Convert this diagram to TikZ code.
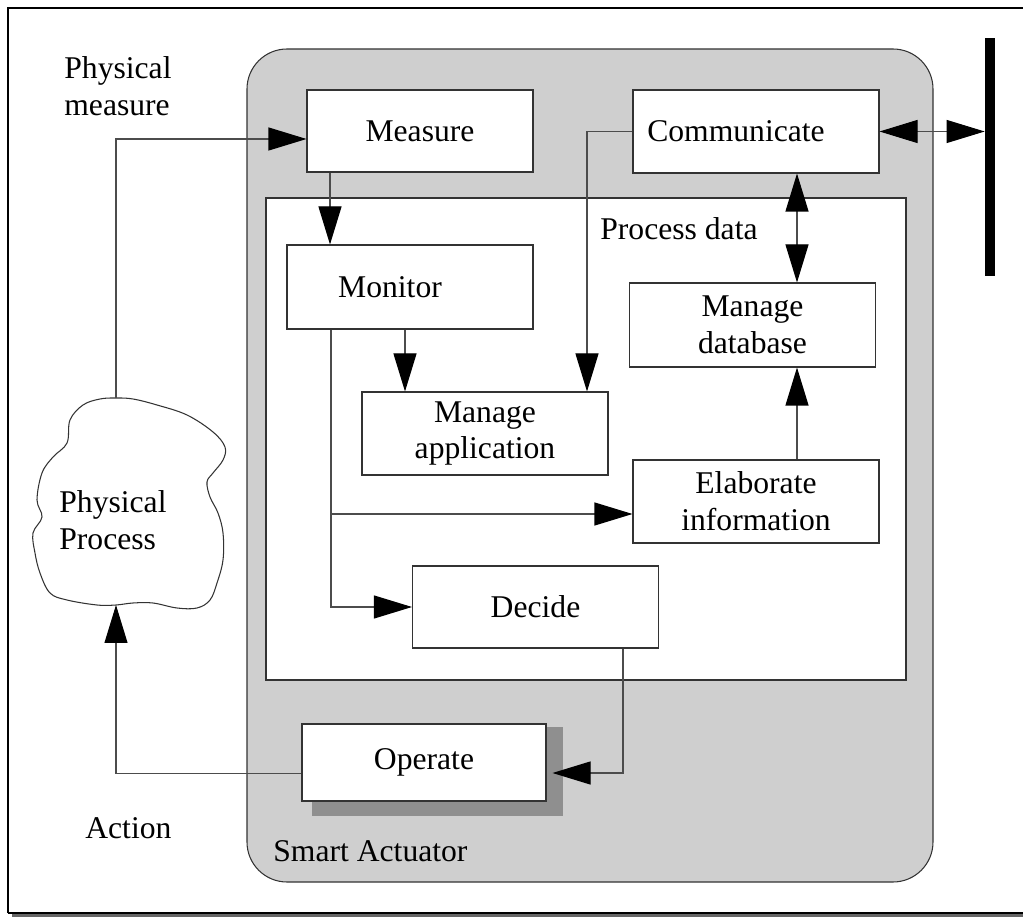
\documentclass[tikz,border=0pt]{standalone}
\usepackage{fontspec}
\setmainfont{Liberation Serif}
\usetikzlibrary{arrows.meta,calc}
\definecolor{actgray}{HTML}{CFCFCF}
\definecolor{shadowgray}{HTML}{8F8F8F}
\tikzset{
  blk/.style={draw=black!80,fill=white,line width=0.6pt,inner sep=0pt,minimum width=4.92cm,minimum height=1.66cm,align=center},
  lbl/.style={inner sep=0pt,anchor=base west},
  arr/.style={draw=black!70,line width=0.6pt,-{Triangle[length=0.76cm,width=0.46cm,color=black]}},
  arrtwo/.style={draw=black!70,line width=0.6pt,{Triangle[length=0.76cm,width=0.46cm,color=black]}-{Triangle[length=0.76cm,width=0.46cm,color=black]}},
}
\begin{document}
\begin{tikzpicture}[font=\fontsize{18}{21}\selectfont]
\useasboundingbox (0,0) rectangle (20.46,-18.34);
\draw[black!60,line width=0.08cm] (0.24,-18.3) -- (20.46,-18.3);
\draw[line width=0.6pt] (0.16,-18.26) -- (0.16,-0.16) -- (20.46,-0.16);
\draw[line width=0.6pt] (0.16,-18.26) -- (20.46,-18.26);

\draw[fill=actgray,draw=black!80,line width=0.6pt,rounded corners=0.8cm] (4.94,-0.98) rectangle (18.66,-17.64);
\draw[fill=white,draw=black!80,line width=0.6pt] (5.32,-3.96) rectangle (18.12,-13.6);
\draw (5.46,-17.22) node[lbl] (SmartAct) {Smart Actuator};
\draw (12.0,-4.8) node[lbl] (ProcData) {Process data};

\draw (8.4,-2.62) node[blk,minimum width=4.52cm,minimum height=1.64cm] (Measure) {Measure};
\draw (15.12,-2.63) node[blk] (Communicate) {Communicate\hspace*{0.8cm}};
\draw (8.2,-5.74) node[blk,minimum height=1.68cm] (Monitor) {Monitor\hspace*{0.8cm}};
\draw (9.7,-8.67) node[blk] (ManageApp) {Manage\\application};
\draw (15.05,-6.5) node[blk,minimum height=1.68cm] (ManageDB) {Manage\\database};
\draw (15.12,-10.03) node[blk] (Elaborate) {Elaborate\\information};
\draw (10.71,-12.14) node[blk,minimum height=1.64cm] (Decide) {Decide};
\fill[shadowgray] (6.24,-14.54) rectangle (11.26,-16.32);
\draw (8.48,-15.25) node[blk,minimum width=4.88cm,minimum height=1.54cm] (Operate) {Operate};
\draw (19.8,-3.14) node[fill=black,inner sep=0pt,minimum width=0.2cm,minimum height=4.76cm] (Bus) {};

\draw[black!80,line width=0.6pt,fill=white] plot[smooth cycle,tension=0.6] coordinates {
 (2.32,-7.96) (2.66,-7.98) (3.14,-8.10) (3.74,-8.30) (4.26,-8.64) (4.50,-8.94) (4.46,-9.20)
 (4.26,-9.46) (4.14,-9.64) (4.20,-9.94) (4.36,-10.26) (4.46,-10.66) (4.46,-11.20) (4.34,-11.66)
 (4.20,-12.00) (3.94,-12.16) (3.54,-12.16) (3.06,-12.06) (2.66,-12.06) (2.32,-12.10) (1.94,-12.10)
 (1.34,-12.00) (1.00,-11.86) (0.80,-11.46) (0.70,-11.06) (0.66,-10.66) (0.84,-10.34) (0.74,-10.00)
 (0.84,-9.46) (1.06,-9.14) (1.34,-8.86) (1.40,-8.40) (1.66,-8.10) (2.00,-7.98)};
\coordinate (CloudTop) at (2.32,-7.96);
\coordinate (CloudBot) at (2.32,-12.1);
\draw (1.18,-9.8) node[inner sep=0pt,anchor=north west,align=left] (PhysProc) {Physical\\Process};
\draw (1.28,-1.12) node[inner sep=0pt,anchor=north west,align=left] (PhysMeas) {Physical\\measure};
\draw (1.7,-16.76) node[lbl] (Action) {Action};

\draw[arr] (CloudTop) |- ([yshift=-0.16cm]Measure.west);
\draw[arr] ([xshift=-1.8cm]Measure.south) -- ([xshift=-1.8cm]Measure.south |- Monitor.north);
\draw[arr] ([xshift=-0.1cm]Monitor.south) -- ([xshift=-0.1cm]Monitor.south |- ManageApp.north);
\draw[arr] (Communicate.west) -| ([xshift=2.04cm]ManageApp.north);
\draw[arrtwo] ([xshift=0.82cm]Communicate.south) -- ([xshift=0.82cm]Communicate.south |- ManageDB.north);
\draw[arrtwo] (Communicate.east) -- (Communicate.east -| Bus.west);
\draw[arr] ([xshift=0.82cm]Elaborate.north) -- ([xshift=0.82cm]Elaborate.north |- ManageDB.south);
\coordinate (Tap) at ([xshift=-1.58cm]Monitor.south);
\draw[arr] (Tap) |- (Decide.west);
\draw[arr] ([yshift=-0.25cm]Elaborate.west -| Tap) -- ([yshift=-0.25cm]Elaborate.west);
\draw[arr] ([xshift=1.75cm]Decide.south) |- ([xshift=0.12cm,yshift=-0.21cm]Operate.east);
\draw[arr] ([yshift=-0.22cm]Operate.west) -| (CloudBot);

\end{tikzpicture}
\end{document}
